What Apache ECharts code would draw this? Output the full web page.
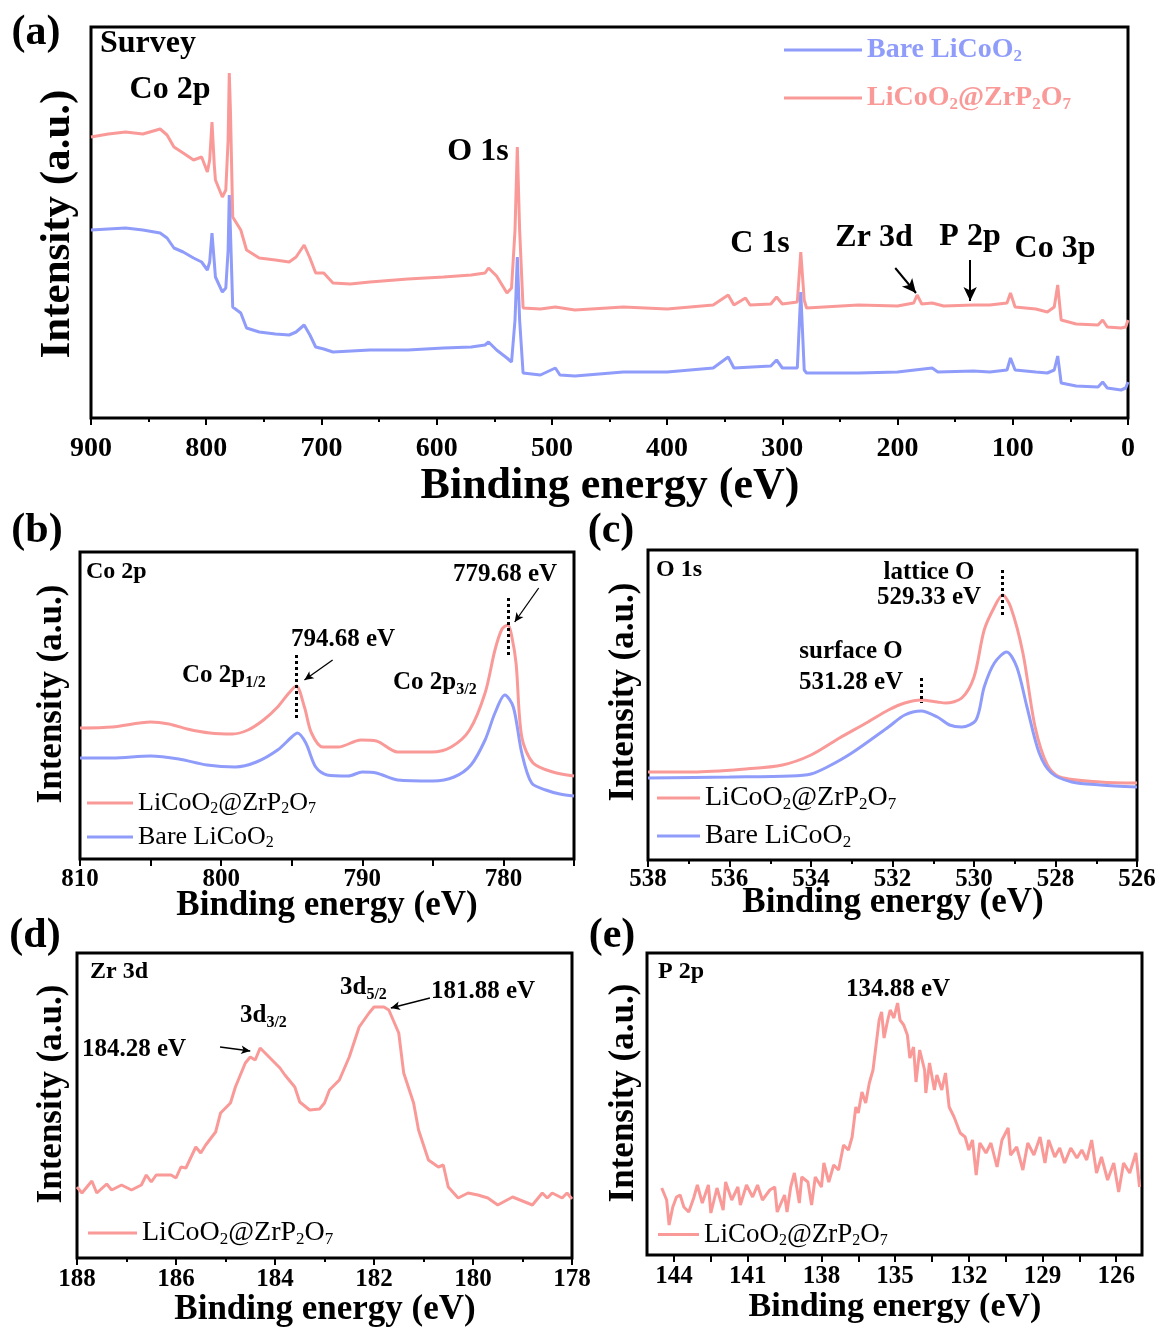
<!DOCTYPE html>
<html>
<head>
<meta charset="utf-8">
<script src="https://cdn.jsdelivr.net/npm/echarts@6.0.0/dist/echarts.min.js"></script>
<style>
html, body { margin: 0; padding: 0; background: #fff; }
#container { width: 1161px; height: 1331px; }
</style>
</head>
<body>
<div id="container"></div>
<script>
// ---- data: [binding energy (eV), intensity (a.u.)] ----
// (a) survey
var surveyCoated = [[900,281],[885,284],[870,286],[855,284],[840,289],[834,283],[828,271],[820,265],[811,258],[804,261],[799,246],[797,258],[795,296],[793,253],[792,238],[786,221],[783,228],[781,278],[780,345],[779,308],[777,201],[770,188],[765,168],[754,160],[740,158],[728,156],[722,161],[715,173],[710,160],[705,145],[698,145],[690,135],[675,134],[658,136],[625,139],[594,141],[570,143],[558,145],[555,150],[548,142],[539,125],[535,130],[532,188],[530,271],[528,188],[525,110],[510,109],[497,111],[480,108],[438,111],[400,109],[360,113],[347,123],[342,113],[332,120],[328,113],[310,114],[305,121],[300,114],[287,116],[284,166],[281,118],[279,110],[234,113],[200,112],[186,115],[183,123],[179,114],[170,115],[160,112],[134,113],[120,113],[105,115],[102,125],[98,111],[80,109],[70,106],[64,111],[61,133],[58,98],[45,94],[26,93],[22,98],[18,91],[6,90],[2,91],[0,98]];
var surveyBare = [[900,188],[885,189],[870,190],[855,188],[840,185],[834,180],[828,170],[820,166],[811,160],[804,156],[799,148],[797,156],[795,185],[793,156],[792,141],[786,126],[783,130],[781,168],[780,223],[779,188],[777,111],[770,105],[765,90],[754,86],[740,84],[728,83],[722,86],[715,93],[710,83],[705,71],[698,69],[690,66],[658,68],[625,68],[594,70],[570,71],[558,73],[555,76],[548,68],[539,60],[535,56],[532,98],[530,161],[528,98],[525,45],[510,43],[497,50],[493,43],[480,42],[438,46],[400,46],[360,50],[347,61],[342,50],[310,52],[305,58],[300,50],[287,50],[284,126],[281,48],[279,45],[234,45],[200,46],[170,50],[165,46],[134,47],[120,46],[105,48],[102,60],[98,48],[80,46],[70,45],[64,48],[61,62],[58,35],[45,32],[26,31],[22,36],[18,30],[6,28],[2,30],[0,36]];
// (b) Co 2p
var co2pCoated = [[810,131],[807.7,132],[805,137],[803.7,135],[802.4,130],[800.8,126],[799.2,125],[798.1,129],[797,139],[796,152],[795.2,166],[794.68,173],[794.1,152],[793.6,126],[792.8,112],[791.7,112],[790.1,119],[789,118],[787.5,107],[785.1,107],[783.7,112],[782.4,129],[781.3,166],[780.6,209],[780.1,230],[779.68,234],[779.4,222],[779.1,195],[778.7,122],[777.9,96],[776.5,87],[775,83]];
var co2pBare = [[810,101],[807.7,101],[805,103],[803,100],[801,94],[799,92],[797.5,97],[796,109],[795,122],[794.6,126],[794,116],[793.3,92],[792.5,84],[791,83],[790,87],[789,86],[787.5,79],[785,78],[783.5,82],[782.3,94],[781.3,119],[780.6,146],[779.9,164],[779.3,152],[778.7,106],[778,76],[777,69],[776,65],[775,63]];
// (c) O 1s
var o1sCoated = [[538,88],[536.9,88],[535.6,91],[534.7,95],[534,105],[533.3,122],[532.6,138],[532.1,150],[531.7,157],[531.3,160],[530.9,158],[530.7,157],[530.3,162],[530,183],[529.75,230],[529.5,253],[529.3,265],[529.1,253],[528.8,207],[528.5,133],[528.2,95],[527.9,83],[526.9,78],[526,77]];
var o1sBare = [[538,82],[536,83],[534.5,84],[534,86],[533.6,93],[533,107],[532.1,133],[531.7,145],[531.3,149],[530.9,143],[530.6,135],[530.3,133],[529.95,140],[529.75,173],[529.5,197],[529.2,208],[528.95,193],[528.7,153],[528.4,107],[528.1,87],[527.6,78],[526.9,75],[526,73]];
// (d) Zr 3d
var zr3dCoated = [[188,71],[187.9,65],[187.7,77],[187.6,65],[187.4,74],[187.3,68],[187.1,73],[186.9,68],[186.7,73],[186.6,83],[186.5,76],[186.4,83],[186.1,83],[186,80],[185.9,91],[185.8,90],[185.6,111],[185.5,105],[185.4,113],[185.2,126],[185.1,145],[184.9,155],[184.8,171],[184.6,195],[184.5,201],[184.4,198],[184.3,210],[184.2,205],[183.9,190],[183.8,183],[183.6,171],[183.5,156],[183.3,148],[183.1,149],[183,155],[182.9,168],[182.7,178],[182.5,201],[182.3,231],[182.1,245],[182,251],[181.8,251],[181.7,248],[181.5,225],[181.4,185],[181.2,155],[181.1,128],[180.9,98],[180.7,91],[180.6,93],[180.5,71],[180.3,60],[180.1,65],[179.9,63],[179.7,60],[179.5,53],[179.2,61],[178.9,55],[178.8,53],[178.6,65],[178.5,60],[178.4,65],[178.2,60],[178.1,65],[178,59]];
// (e) P 2p
var p2pCoated = [[144.5,67],[144.3,55],[144.2,30],[144.05,48],[143.9,58],[143.75,60],[143.6,48],[143.4,43],[143.2,57],[143.05,70],[142.85,52],[142.6,70],[142.5,42],[142.25,67],[142,45],[141.9,73],[141.65,55],[141.4,68],[141.3,50],[141.05,70],[140.8,58],[140.6,70],[140.4,55],[140.1,65],[139.9,68],[139.8,43],[139.5,60],[139.4,43],[139.25,68],[139.1,82],[138.9,52],[138.8,78],[138.55,73],[138.4,50],[138.25,78],[138,68],[137.9,92],[137.7,73],[137.5,90],[137.3,85],[137.1,110],[136.9,105],[136.75,118],[136.6,148],[136.5,142],[136.35,163],[136.2,152],[136.05,172],[135.9,185],[135.8,205],[135.65,235],[135.55,243],[135.45,217],[135.3,235],[135.2,245],[135.05,237],[134.9,252],[134.8,235],[134.65,230],[134.5,220],[134.4,197],[134.25,208],[134.15,173],[134,205],[133.8,185],[133.75,162],[133.6,192],[133.4,165],[133.3,180],[133.1,165],[132.95,182],[132.8,148],[132.6,138],[132.35,122],[132.15,118],[132,105],[131.85,115],[131.7,80],[131.55,112],[131.3,102],[131.1,112],[130.85,88],[130.65,115],[130.4,127],[130.3,100],[130.05,108],[129.8,85],[129.6,112],[129.35,100],[129.1,118],[128.9,92],[128.75,115],[128.5,98],[128.3,107],[128.1,92],[127.85,107],[127.6,97],[127.4,105],[127.2,95],[127,115],[126.8,82],[126.6,98],[126.35,75],[126.1,92],[125.9,63],[125.7,92],[125.45,82],[125.2,102],[125.05,68]];
// tick values for (e)
var p2pTicks = [126, 127.5, 129, 130.5, 132, 133.5, 135, 136.5, 138, 139.5, 141, 142.5, 144];
var p2pLabels = [126, 129, 132, 135, 138, 141, 144];

var FONT = 'Liberation Serif';
var RED = '#F99A98';
var BLUE = '#8F9CFA';
var NAME_BARE = 'Bare LiCoO2';
var NAME_COAT = 'LiCoO2@ZrP2O7';

// grids: left, top, width, height
var grids = [
    { left: 91, top: 27, width: 1037, height: 391 },
    { left: 80, top: 552, width: 494, height: 307 },
    { left: 648, top: 550, width: 489, height: 310 },
    { left: 77, top: 953, width: 495, height: 305 },
    { left: 647, top: 953, width: 495, height: 302 }
];

function xAxisOf(idx, min, max, interval, step, fontSize, margin, minor) {
    return {
        gridIndex: idx, type: 'value', inverse: true,
        min: min, max: max, interval: interval,
        axisLine: { show: false },
        splitLine: { show: false },
        axisTick: { show: true, inside: false, length: 7, lineStyle: { color: '#000', width: 2 } },
        minorTick: { show: minor, splitNumber: 2, length: 4, lineStyle: { color: '#000', width: 2 } },
        axisLabel: {
            margin: margin, fontFamily: FONT, fontWeight: 'bold', fontSize: fontSize, color: '#000',
            formatter: function (v) {
                var r = Math.round(v);
                return (Math.abs(v - r) < 1e-6 && r % step === 0) ? String(r) : '';
            }
        }
    };
}
function yAxisOf(idx, max) {
    return { gridIndex: idx, type: 'value', min: 0, max: max, show: false };
}
function lineOf(idx, name, color, data, smooth, markLine) {
    var s = {
        name: name, type: 'line', xAxisIndex: idx, yAxisIndex: idx,
        data: data, showSymbol: false, symbol: 'none', smooth: smooth,
        lineStyle: { color: color, width: 3 }, itemStyle: { color: color },
        animation: false
    };
    if (markLine) s.markLine = markLine;
    return s;
}
function marks(lines) {
    return {
        silent: true, animation: false, label: { show: false },
        symbol: ['none', 'none'],
        data: lines
    };
}
function dotted(x, y1, y2) {
    return [{ coord: [x, y1], symbol: 'none', lineStyle: { type: [3, 3], color: '#000', width: 3 } },
            { coord: [x, y2], symbol: 'none' }];
}
function arrow(x1, y1, x2, y2, w) {
    return [{ coord: [x1, y1], symbol: 'none', lineStyle: { type: 'solid', color: '#000', width: w } },
            { coord: [x2, y2], symbol: 'arrow', symbolSize: [w * 5, w * 7] }];
}
function legendName(name) {
    return name === NAME_BARE ? 'Bare LiCoO{s|2}' : 'LiCoO{s|2}@ZrP{s|2}O{s|7}';
}
function legendOf(left, top, names, fontSize, bold, lineWidth, gap, colored) {
    return {
        orient: 'vertical', left: left, top: top, icon: 'rect',
        itemWidth: lineWidth, itemHeight: 3, itemGap: gap, padding: 0,
        selectedMode: false,
        data: names.map(function (n) {
            var c = colored ? (n === NAME_BARE ? BLUE : RED) : '#000';
            return { name: n, textStyle: { color: c } };
        }),
        formatter: legendName,
        textStyle: {
            fontFamily: FONT, fontSize: fontSize, fontWeight: bold ? 'bold' : 'normal',
            lineHeight: fontSize + 4,
            rich: { s: { fontFamily: FONT, fontSize: Math.round(fontSize * 0.6), fontWeight: bold ? 'bold' : 'normal', padding: [Math.round(fontSize * 0.45), 0, 0, 0] } }
        }
    };
}
function txt(x, y, text, size, align, rot) {
    return {
        type: 'text', x: x, y: y, rotation: rot || 0, silent: true,
        style: {
            text: text, fontFamily: FONT, fontWeight: 'bold', fontSize: size,
            fill: '#000', align: align || 'center', verticalAlign: 'middle',
            rich: { s: { fontFamily: FONT, fontWeight: 'bold', fontSize: Math.round(size * 0.65), fill: '#000', padding: [Math.round(size * 0.5), 0, 0, 0] } }
        }
    };
}

var myChart = echarts.init(document.getElementById('container'), null, { renderer: 'canvas' });

var p2pAxis = xAxisOf(4, 124.95, 145.1, 1.5, 3, 25, 9, false);
p2pAxis.axisTick.customValues = p2pTicks;
p2pAxis.axisLabel.customValues = p2pLabels;

var option = {
    backgroundColor: '#fff',
    animation: false,
    grid: grids.map(function (g) {
        return { left: g.left, top: g.top, width: g.width, height: g.height, show: true, borderColor: '#000', borderWidth: 3, containLabel: false };
    }),
    xAxis: [
        xAxisOf(0, 0, 900, 100, 100, 28, 17, true),
        xAxisOf(1, 775, 810, 5, 10, 25, 8, false),
        xAxisOf(2, 526, 538, 2, 2, 25, 7, true),
        xAxisOf(3, 178, 188, 2, 2, 25, 9, true),
        p2pAxis
    ],
    yAxis: [yAxisOf(0, 391), yAxisOf(1, 307), yAxisOf(2, 310), yAxisOf(3, 305), yAxisOf(4, 302)],
    legend: [
        legendOf(784, 34, [NAME_BARE, NAME_COAT], 28, true, 78, 16, true),
        legendOf(87, 788, [NAME_COAT, NAME_BARE], 26, false, 46, 4, false),
        legendOf(657, 782, [NAME_COAT, NAME_BARE], 28, false, 43, 6, false),
        legendOf(88, 1217, [NAME_COAT], 28, false, 49, 8, false),
        legendOf(658, 1219, [NAME_COAT], 27, false, 41, 8, false)
    ],
    series: [
        lineOf(0, NAME_COAT, RED, surveyCoated, false, marks([arrow(202, 150, 184, 125, 2), arrow(137, 158, 137, 117, 2)])),
        lineOf(0, NAME_BARE, BLUE, surveyBare, false),
        lineOf(1, NAME_COAT, RED, co2pCoated, 0.3, marks([dotted(794.68, 204, 141), dotted(779.68, 261, 201),
            arrow(792.1, 199, 794.1, 179, 1.3), arrow(777.5, 271, 779.2, 237, 1.3)])),
        lineOf(1, NAME_BARE, BLUE, co2pBare, 0.3),
        lineOf(2, NAME_COAT, RED, o1sCoated, 0.3, marks([dotted(529.31, 290, 243), dotted(531.30, 182, 157)])),
        lineOf(2, NAME_BARE, BLUE, o1sBare, 0.3),
        lineOf(3, NAME_COAT, RED, zr3dCoated, false, marks([arrow(185.11, 211, 184.5, 207, 1.3), arrow(180.87, 260, 181.66, 250, 1.3)])),
        lineOf(4, NAME_COAT, RED, p2pCoated, false)
    ],
    graphic: [
        // panel letters
        txt(36, 33, '(a)', 42), txt(37, 531, '(b)', 42), txt(611, 531, '(c)', 42),
        txt(35, 936, '(d)', 42), txt(612, 936, '(e)', 42),
        // axis names
        txt(610, 487, 'Binding energy (eV)', 44), txt(58, 224, 'Intensity (a.u.)', 43, 'center', Math.PI / 2),
        txt(327, 906, 'Binding energy (eV)', 35), txt(52, 694, 'Intensity (a.u.)', 35, 'center', Math.PI / 2),
        txt(893, 903, 'Binding energy (eV)', 35), txt(624, 692, 'Intensity (a.u.)', 35, 'center', Math.PI / 2),
        txt(325, 1310, 'Binding energy (eV)', 35), txt(52, 1094, 'Intensity (a.u.)', 35, 'center', Math.PI / 2),
        txt(895, 1307, 'Binding energy (eV)', 34), txt(624, 1093, 'Intensity (a.u.)', 35, 'center', Math.PI / 2),
        // (a) peaks
        txt(100, 44, 'Survey', 32, 'left'), txt(170, 90, 'Co 2p', 32), txt(478, 152, 'O 1s', 32),
        txt(760, 244, 'C 1s', 32), txt(874, 238, 'Zr 3d', 32), txt(970, 237, 'P 2p', 32), txt(1055, 249, 'Co 3p', 32),
        // (b)
        txt(86, 572, 'Co 2p', 24, 'left'), txt(505, 575, '779.68 eV', 25), txt(343, 640, '794.68 eV', 25),
        txt(182, 676, 'Co 2p{s|1/2}', 25, 'left'), txt(393, 683, 'Co 2p{s|3/2}', 25, 'left'),
        // (c)
        txt(656, 570, 'O 1s', 24, 'left'), txt(929, 573, 'lattice O', 25), txt(929, 598, '529.33 eV', 25),
        txt(851, 652, 'surface O', 25), txt(851, 683, '531.28 eV', 25),
        // (d)
        txt(90, 972, 'Zr 3d', 24, 'left'), txt(240, 1016, '3d{s|3/2}', 25, 'left'), txt(134, 1050, '184.28 eV', 25),
        txt(340, 988, '3d{s|5/2}', 25, 'left'), txt(483, 992, '181.88 eV', 25),
        // (e)
        txt(658, 972, 'P 2p', 24, 'left'), txt(898, 990, '134.88 eV', 25)
    ]
};
myChart.setOption(option);
</script>
</body>
</html>
